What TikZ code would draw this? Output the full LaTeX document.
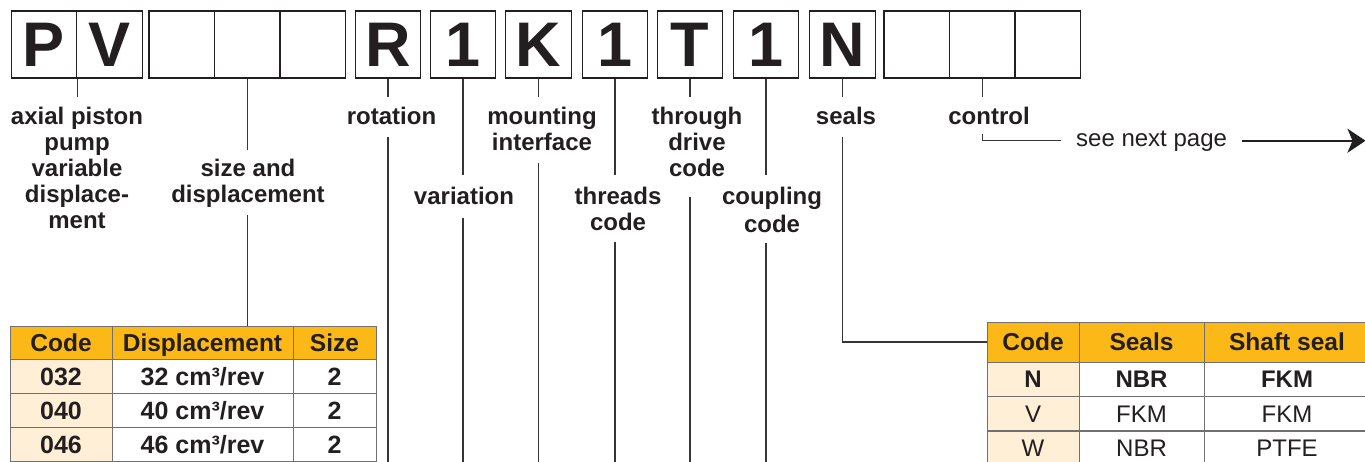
\documentclass[tikz,border=0pt]{standalone}
\usepackage{fontspec}
\setmainfont{Liberation Sans}
\usetikzlibrary{positioning,arrows.meta}

\begin{document}
\begin{tikzpicture}[
        x=1pt,y=-1pt,
        lbl/.style={align=center,inner sep=0pt,anchor=north,text=ink,font=\fontsize{24}{26}\selectfont\bfseries},
        lead/.style={draw=ink!90,line width=1.3pt},
        tcell/.style={draw=rule,line width=1pt,inner sep=0pt,text=ink,text height=17.5pt,text depth=0pt},
        hd/.style={tcell,fill=hdr,font=\fontsize{24.5}{24.5}\selectfont\bfseries},
        cd/.style={tcell,fill=codebg,minimum height=34pt},
        dt/.style={tcell,fill=white,minimum height=34pt}
    ]
        \definecolor{ink}{HTML}{231F20}
        \definecolor{rule}{HTML}{707070}
        \definecolor{hdr}{HTML}{FBB817}
        \definecolor{codebg}{HTML}{FEEFD6}

        \useasboundingbox[fill=white] (0,0) rectangle (1365,461);

        \begin{scope}[
            node distance=-1.4pt,
            every node/.style={draw=ink,line width=1.4pt,minimum width=65.5pt,minimum height=67pt,
                inner sep=0pt,text=ink,font=\fontsize{63}{63}\selectfont\bfseries}
        ]
            \node (p) at (44,44.5)         {P};
            \node (v) [right=of p]         {V};
            \node (s1) at (181.7,44.5)     {};
            \node (s2) [right=of s1]       {};
            \node (s3) [right=of s2]       {};
            \node (r) at (388,44.5)        {R};
            \node (n1) at (463,44.5)       {1};
            \node (k) at (538.5,44.5)      {K};
            \node (n2) at (615,44.5)       {1};
            \node (t) at (690,44.5)        {T};
            \node (n3) at (766,44.5)       {1};
            \node (n) at (842.5,44.5)      {N};
            \node (c1) at (916.7,44.5)     {};
            \node (c2) [right=of c1]       {};
            \node (c3) [right=of c2]       {};
        \end{scope}

        \node (axial) [lbl] at (77,107)   {axial piston\\pump\\variable\\displace-\\ment};
        \node (size)  [lbl] at (248,159)  {size and\\displacement};
        \node (rot)   [lbl] at (391.5,107) {rotation};
        \node (var)   [lbl] at (464,187)  {variation};
        \node (mnt)   [lbl] at (542,107)  {mounting\\interface};
        \node (thr)   [lbl] at (618,187)  {threads\\code};
        \node (thru)  [lbl] at (697,107)  {through\\drive\\code};
        \node (cpl)   [lbl] at (772,187)  {coupling\\[2pt]code};
        \node (seal)  [lbl] at (846,107)  {seals};
        \node (ctl)   [lbl] at (989,107)  {control};

        \node (seenext) [anchor=base west,inner sep=0pt,text=ink,font=\fontsize{24}{26}\selectfont] at (1076,146) {see next page};
        \coordinate (nextpg) at (1365.5,0);
        \coordinate (bot) at (0,470);

        \begin{scope}[node distance=-1pt,font=\fontsize{25}{25}\selectfont\bfseries]
            \node (dc) [hd,minimum width=102pt,minimum height=33pt] at (61,342.5) {Code};
            \node (dd) [hd,minimum width=181pt,minimum height=33pt,right=of dc] {Displacement};
            \node (ds) [hd,minimum width=83pt,minimum height=33pt,right=of dd]  {Size};
            \node (d1c) [cd,minimum width=102pt] at (61,376.5)        {032};
            \node (d1d) [dt,minimum width=181pt,right=of d1c]         {32 cm³/rev};
            \node (d1s) [dt,minimum width=83pt,right=of d1d]          {2};
            \node (d2c) [cd,minimum width=102pt] at (61,410.5)        {040};
            \node (d2d) [dt,minimum width=181pt,right=of d2c]         {40 cm³/rev};
            \node (d2s) [dt,minimum width=83pt,right=of d2d]          {2};
            \node (d3c) [cd,minimum width=102pt] at (61,444.5)        {046};
            \node (d3d) [dt,minimum width=181pt,right=of d3c]         {46 cm³/rev};
            \node (d3s) [dt,minimum width=83pt,right=of d3d]          {2};
        \end{scope}

        \begin{scope}[node distance=-1pt,font=\fontsize{24}{24}\selectfont]
            \node (sc) [hd,minimum width=92pt,minimum height=40pt] at (1033,342) {Code};
            \node (ss) [hd,minimum width=125pt,minimum height=40pt,right=of sc] {Seals};
            \node (sf) [hd,minimum width=166pt,minimum height=40pt,right=of ss] {Shaft seal};
            \node (s1c) [cd,minimum width=92pt,font=\fontsize{24}{24}\selectfont\bfseries] at (1033,379) {N};
            \node (s1s) [dt,minimum width=125pt,font=\fontsize{24}{24}\selectfont\bfseries,right=of s1c] {NBR};
            \node (s1f) [dt,minimum width=166pt,font=\fontsize{24}{24}\selectfont\bfseries,right=of s1s] {FKM};
            \node (s2c) [cd,minimum width=92pt] at (1033,413.5)  {V};
            \node (s2s) [dt,minimum width=125pt,right=of s2c]    {FKM};
            \node (s2f) [dt,minimum width=166pt,right=of s2s]    {FKM};
            \node (s3c) [cd,minimum width=92pt] at (1033,448)    {W};
            \node (s3s) [dt,minimum width=125pt,right=of s3c]    {NBR};
            \node (s3f) [dt,minimum width=166pt,right=of s3s]    {PTFE};
        \end{scope}

        \draw [lead,shorten >=10pt] (p.south east) -- (p.south east |- axial.north);
        \draw [lead,shorten >=9pt]  (s2.south) -- (s2.south |- size.north);
        \draw [lead,shorten <=7pt]  (s2.south |- size.south) -- (s2.south |- dd.north);
        \draw [lead,shorten >=10pt] (r.south) -- (r.south |- rot.north);
        \draw [lead,shorten <=12pt] (r.south |- rot.south) -- (r.south |- bot);
        \draw [lead,shorten >=12pt] (n1.south) -- (n1.south |- var.north);
        \draw [lead,shorten <=13pt] (n1.south |- var.south) -- (n1.south |- bot);
        \draw [lead,shorten >=10pt] (k.south) -- (k.south |- mnt.north);
        \draw [lead,shorten <=12pt] (k.south |- mnt.south) -- (k.south |- bot);
        \draw [lead,shorten >=12pt] (n2.south) -- (n2.south |- thr.north);
        \draw [lead,shorten <=11pt] (n2.south |- thr.south) -- (n2.south |- bot);
        \draw [lead,shorten >=10pt] (t.south) -- (t.south |- thru.north);
        \draw [lead,shorten <=20pt] (t.south |- thru.south) -- (t.south |- bot);
        \draw [lead,shorten >=12pt] (n3.south) -- (n3.south |- cpl.north);
        \draw [lead,shorten <=10pt] (n3.south |- cpl.south) -- (n3.south |- bot);
        \draw [lead,shorten >=10pt] (n.south) -- (n.south |- seal.north);
        \draw [lead,shorten <=12pt] (n.south |- seal.south) |- (sc.west);
        \draw [lead,shorten >=10pt] (c2.south) -- (c2.south |- ctl.north);
        \draw [lead,shorten <=9pt,shorten >=15pt] (c2.south |- ctl.south) |- (seenext.west);
        \draw [ink,line width=2.4pt,shorten <=15pt,-{Stealth[length=18pt,width=24pt,inset=5pt]}] (seenext.east) -- (seenext.east -| nextpg);
    \end{tikzpicture}
\end{document}
